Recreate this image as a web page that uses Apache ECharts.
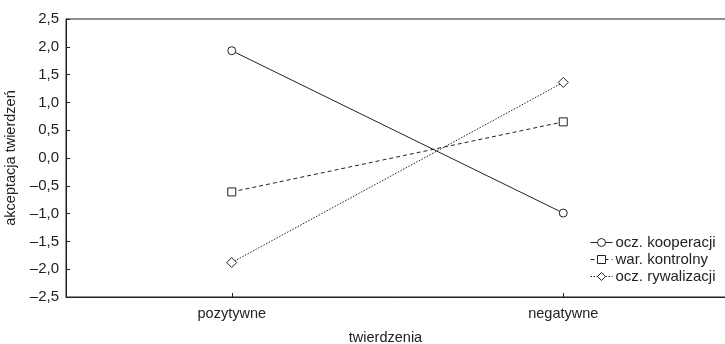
<!DOCTYPE html>
<html>
<head>
<meta charset="utf-8">
<script src="https://cdn.jsdelivr.net/npm/echarts@6/dist/echarts.min.js"></script>
<style>
html,body{margin:0;padding:0;background:#fff;}
#chart{width:725px;height:344px;}
</style>
</head>
<body>
<div id="chart"></div>
<script>
var categories = ['pozytywne', 'negatywne'];
var kooperacji = [1.93, -0.99];
var kontrolny = [-0.61, 0.65];
var rywalizacji = [-1.88, 1.36];
var seriesNames = ['ocz. kooperacji', 'war. kontrolny', 'ocz. rywalizacji'];
var yMin = -2.5, yMax = 2.5, yStep = 0.5;

var FONT = '"Liberation Sans", Arial, Helvetica, sans-serif';
var INK = '#222';

function fmt(v) {
  var s = Math.abs(v).toFixed(1).replace('.', ',');
  return (v < -1e-9 ? '\u2013' : '') + s;
}

function mk(name, data, symbol, size, lineType) {
  return {
    name: name,
    type: 'line',
    data: data,
    symbol: symbol,
    symbolSize: size,
    showAllSymbol: true,
    lineStyle: { color: INK, width: 1, type: lineType },
    itemStyle: { color: '#fff', borderColor: INK, borderWidth: 1 },
    emphasis: { disabled: true },
    animation: false
  };
}

var chart = echarts.init(document.getElementById('chart'), null, { renderer: 'canvas' });
chart.setOption({
  backgroundColor: '#fff',
  animation: false,
  textStyle: { fontFamily: FONT, color: INK },
  grid: { left: 66, right: -4, top: 19, bottom: 47, containLabel: false, outerBoundsMode: 'none', show: true, borderColor: INK, borderWidth: 1, backgroundColor: 'transparent' },
  legend: {
    orient: 'vertical',
    left: 585,
    top: 230,
    itemWidth: 22,
    itemHeight: 10,
    itemGap: 2,
    data: seriesNames,
    lineStyle: { width: 1 },
    itemStyle: { borderWidth: 1 },
    textStyle: { fontFamily: FONT, fontSize: 15, color: INK, padding: [0, 0, 0, -2] },
    inactiveColor: INK
  },
  xAxis: {
    type: 'category',
    data: categories,
    boundaryGap: true,
    name: 'twierdzenia',
    nameLocation: 'middle',
    nameGap: 33,
    nameTextStyle: { fontFamily: FONT, fontSize: 14.5, color: INK, padding: [0, 24, 0, 0] },
    axisLine: { show: true, onZero: false, lineStyle: { color: INK, width: 1 } },
    axisTick: { show: true, inside: true, length: 4, alignWithLabel: true, lineStyle: { color: INK } },
    axisLabel: { fontFamily: FONT, fontSize: 14.5, color: INK, margin: 9 },
    splitLine: { show: false }
  },
  yAxis: {
    type: 'value',
    min: yMin,
    max: yMax,
    interval: yStep,
    name: 'akceptacja twierdze\u0144',
    nameLocation: 'middle',
    nameGap: 34,
    nameRotate: 90,
    nameTextStyle: { fontFamily: FONT, fontSize: 14.5, color: INK },
    axisLine: { show: true, lineStyle: { color: INK, width: 1 } },
    axisTick: { show: true, inside: true, length: 4, lineStyle: { color: INK } },
    axisLabel: { fontFamily: FONT, fontSize: 15, color: INK, margin: 7, formatter: fmt },
    splitLine: { show: false }
  },
  series: [
    mk(seriesNames[0], kooperacji, 'circle', 8, 'solid'),
    mk(seriesNames[1], kontrolny, 'rect', 8, [4, 3]),
    mk(seriesNames[2], rywalizacji, 'diamond', 10, [1.5, 1.5])
  ]
});
</script>
</body>
</html>
